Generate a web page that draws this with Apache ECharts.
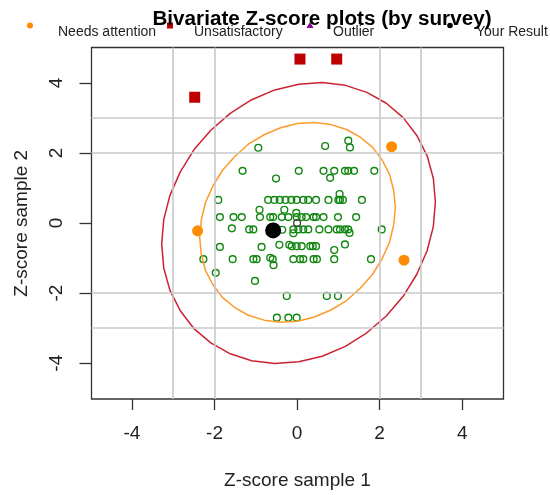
<!DOCTYPE html>
<html>
<head>
<meta charset="utf-8">
<script src="https://cdn.jsdelivr.net/npm/echarts@6/dist/echarts.min.js"></script>
<style>html,body{margin:0;padding:0;background:#fff;}#c{width:550px;height:495px;}</style>
</head>
<body>
<div id="c"></div>
<script>
// ---- data ----
const titleText = 'Bivariate Z-score plots (by survey)';
const xAxisName = 'Z-score sample 1';
const yAxisName = 'Z-score sample 2';
const tickValues = [-4, -2, 0, 2, 4];
const refLines = [-3, -2, 2, 3];
const legendNames = ['Needs attention', 'Unsatisfactory', 'Outlier', 'Your Result'];

const okPoints = [
  [-0.94,2.15],[0.68,2.20],[1.28,2.16],[1.24,2.35],
  [-1.32,1.49],[0.04,1.49],[0.64,1.49],[0.90,1.49],[1.16,1.49],[1.24,1.49],[1.38,1.49],[1.87,1.49],
  [-0.51,1.27],[0.80,1.29],
  [-1.91,0.66],[-0.70,0.66],[-0.55,0.66],[-0.42,0.66],[-0.28,0.66],[-0.14,0.66],[-0.01,0.66],[0.15,0.66],[0.27,0.66],[0.46,0.66],[0.76,0.66],[1.00,0.66],[1.04,0.66],[1.11,0.66],[1.57,0.66],
  [1.03,0.83],
  [-0.91,0.38],[-0.31,0.38],[-0.02,0.29],
  [-1.87,0.17],[-1.54,0.17],[-1.34,0.17],[-0.90,0.17],[-0.65,0.17],[-0.58,0.17],[-0.37,0.17],[-0.21,0.17],[-0.01,0.17],[0.11,0.17],[0.22,0.17],[0.40,0.17],[0.46,0.17],[0.64,0.17],[0.99,0.17],[1.43,0.17],
  [-1.58,-0.15],[-1.16,-0.18],[-1.06,-0.18],[-0.36,-0.19],[-0.09,-0.18],[0.03,-0.18],[0.15,-0.18],[0.27,-0.18],[0.54,-0.18],[0.76,-0.18],[0.96,-0.18],[1.04,-0.18],[1.16,-0.18],[1.24,-0.18],[2.05,-0.18],[1.27,-0.28],[-0.09,-0.29],
  [-1.87,-0.68],[-0.86,-0.68],[-0.43,-0.62],[-0.19,-0.62],[-0.13,-0.66],[-0.01,-0.66],[0.11,-0.66],[0.32,-0.66],[0.38,-0.66],[0.46,-0.66],[1.16,-0.61],[0.90,-0.77],
  [-2.27,-1.03],[-1.56,-1.03],[-1.06,-1.03],[-0.98,-1.03],[-0.65,-0.99],[-0.59,-1.03],[-0.09,-1.03],[0.07,-1.03],[0.15,-1.03],[0.40,-1.03],[0.48,-1.03],[0.90,-1.03],[1.79,-1.03],
  [-0.57,-1.20],[-1.97,-1.42],[-1.02,-1.65],
  [-0.25,-2.08],[0.72,-2.08],[0.99,-2.08],
  [-0.49,-2.70],[-0.21,-2.70],[-0.01,-2.70]
];
const needsAttention = [[2.29,2.18],[-2.41,-0.22],[2.59,-1.06]];
const unsatisfactory = [[-2.48,3.59],[0.07,4.68],[0.96,4.68]];
const outliers = [];
const yourResult = [[-0.58,-0.21]];
const centrePoint = [[0,0]];

// contour points of the two ellipses
const ellipseInner = [
  [2.38,0.45],[2.34,0.93],[2.24,1.39],[2.06,1.80],[1.83,2.16],[1.53,2.45],[1.20,2.67],[0.82,2.81],[0.42,2.87],
  [0.01,2.84],[-0.40,2.72],[-0.80,2.52],[-1.18,2.25],[-1.51,1.90],[-1.81,1.50],[-2.04,1.06],[-2.22,0.58],[-2.32,0.09],
  [-2.36,-0.41],[-2.32,-0.89],[-2.22,-1.35],[-2.04,-1.76],[-1.81,-2.12],[-1.51,-2.41],[-1.18,-2.63],[-0.80,-2.77],[-0.40,-2.83],
  [0.01,-2.80],[0.42,-2.68],[0.82,-2.48],[1.20,-2.21],[1.53,-1.86],[1.83,-1.46],[2.06,-1.02],[2.24,-0.54],[2.34,-0.05],
  [2.38,0.45]
];
const ellipseOuter = [
  [3.35,0.60],[3.30,1.28],[3.15,1.92],[2.90,2.50],[2.57,3.01],[2.16,3.42],[1.69,3.73],[1.17,3.93],[0.61,4.01],
  [0.04,3.96],[-0.54,3.80],[-1.10,3.52],[-1.62,3.13],[-2.09,2.65],[-2.50,2.09],[-2.83,1.46],[-3.08,0.79],[-3.23,0.10],
  [-3.28,-0.60],[-3.23,-1.28],[-3.08,-1.92],[-2.83,-2.50],[-2.50,-3.01],[-2.09,-3.42],[-1.62,-3.73],[-1.10,-3.93],[-0.54,-4.01],
  [0.04,-3.96],[0.61,-3.80],[1.17,-3.52],[1.69,-3.13],[2.16,-2.65],[2.57,-2.09],[2.90,-1.46],[3.15,-0.79],[3.30,-0.10],
  [3.35,0.60]
];

// ---- chart ----
const FONT = '"Liberation Sans", Arial, sans-serif';
const chart = echarts.init(document.getElementById('c'), null, {renderer: 'canvas'});

const gridLineData = refLines.map(v => ({xAxis: v})).concat(refLines.map(v => ({yAxis: v})));

const legendY = 25.5, legendTextY = 32;
const legendGraphics = [
  {type: 'circle', shape: {cx: 30, cy: legendY, r: 3}, style: {fill: '#FF8C00'}},
  {type: 'text', x: 58, y: legendTextY, style: {text: legendNames[0], font: '14px ' + FONT, fill: '#222', verticalAlign: 'middle'}},
  {type: 'rect', shape: {x: 167, y: legendY - 3, width: 6, height: 6}, style: {fill: '#C00000'}},
  {type: 'text', x: 194, y: legendTextY, style: {text: legendNames[1], font: '14px ' + FONT, fill: '#222', verticalAlign: 'middle'}},
  {type: 'polygon', shape: {points: [[310, legendY - 3.5], [313.5, legendY + 2.5], [306.5, legendY + 2.5]]}, style: {fill: '#8B008B'}},
  {type: 'text', x: 333, y: legendTextY, style: {text: legendNames[2], font: '14px ' + FONT, fill: '#222', verticalAlign: 'middle'}},
  {type: 'circle', shape: {cx: 450, cy: legendY, r: 2.8}, style: {fill: '#000'}},
  {type: 'text', x: 476, y: legendTextY, style: {text: legendNames[3], font: '14px ' + FONT, fill: '#222', verticalAlign: 'middle'}},
  {type: 'text', x: 322, y: 19, z: 10, style: {text: titleText, font: 'bold 20.7px ' + FONT, fill: '#000', align: 'center', verticalAlign: 'middle'}}
];

chart.setOption({
  animation: false,
  backgroundColor: '#fff',
  graphic: legendGraphics,
  grid: {left: 91.5, top: 47.5, width: 412, height: 351.5, show: true, borderColor: '#333', borderWidth: 1.3, backgroundColor: 'transparent'},
  xAxis: {
    type: 'value', min: -4.98, max: 5.0,
    name: xAxisName, nameLocation: 'middle', nameGap: 72,
    nameTextStyle: {fontFamily: FONT, fontSize: 19, color: '#222'},
    axisLine: {show: false, onZero: false},
    axisTick: {show: true, length: 11, lineStyle: {color: '#333', width: 1.3}, customValues: tickValues},
    axisLabel: {fontFamily: FONT, fontSize: 19, color: '#222', margin: 25, customValues: tickValues},
    splitLine: {show: false}
  },
  yAxis: {
    type: 'value', min: -5.02, max: 5.01,
    name: yAxisName, nameLocation: 'middle', nameGap: 60,
    nameTextStyle: {fontFamily: FONT, fontSize: 19, color: '#222'},
    axisLine: {show: false, onZero: false},
    axisTick: {show: true, length: 12, lineStyle: {color: '#333', width: 1.3}, customValues: tickValues},
    axisLabel: {fontFamily: FONT, fontSize: 19, color: '#222', margin: 25, rotate: 90, customValues: tickValues},
    splitLine: {show: false}
  },
  series: [
    {type: 'scatter', name: 'refgrid', data: [], z: 1, silent: true,
     markLine: {silent: true, symbol: ['none', 'none'], label: {show: false},
       lineStyle: {type: 'solid', color: '#c8c8c8', width: 1.6}, data: gridLineData}},
    {type: 'scatter', name: 'OK', data: okPoints, z: 3, symbol: 'circle', symbolSize: 6.8,
     itemStyle: {color: 'transparent', borderColor: '#128812', borderWidth: 1.4, opacity: 1}},
    {type: 'scatter', name: 'Centre', data: centrePoint, z: 3, symbol: 'circle', symbolSize: 6.8,
     itemStyle: {color: 'transparent', borderColor: '#444', borderWidth: 1.4, opacity: 1}},
    {type: 'line', name: 'Inner', data: ellipseInner, z: 4, smooth: false, symbol: 'none',
     lineStyle: {color: '#FF9A2A', width: 1.5, join: 'round'}},
    {type: 'line', name: 'Outer', data: ellipseOuter, z: 4, smooth: false, symbol: 'none',
     lineStyle: {color: '#CC2233', width: 1.5, join: 'round'}},
    {type: 'scatter', name: legendNames[0], data: needsAttention, z: 5, symbol: 'circle', symbolSize: 11,
     itemStyle: {color: '#FF8C00', opacity: 1}},
    {type: 'scatter', name: legendNames[1], data: unsatisfactory, z: 5, symbol: 'rect', symbolSize: 11,
     itemStyle: {color: '#C00000', opacity: 1}},
    {type: 'scatter', name: legendNames[2], data: outliers, z: 5, symbol: 'triangle', symbolSize: 11,
     itemStyle: {color: '#8B008B', opacity: 1}},
    {type: 'scatter', name: legendNames[3], data: yourResult, z: 6, symbol: 'circle', symbolSize: 16,
     itemStyle: {color: '#000', opacity: 1}}
  ]
});
</script>
</body>
</html>
